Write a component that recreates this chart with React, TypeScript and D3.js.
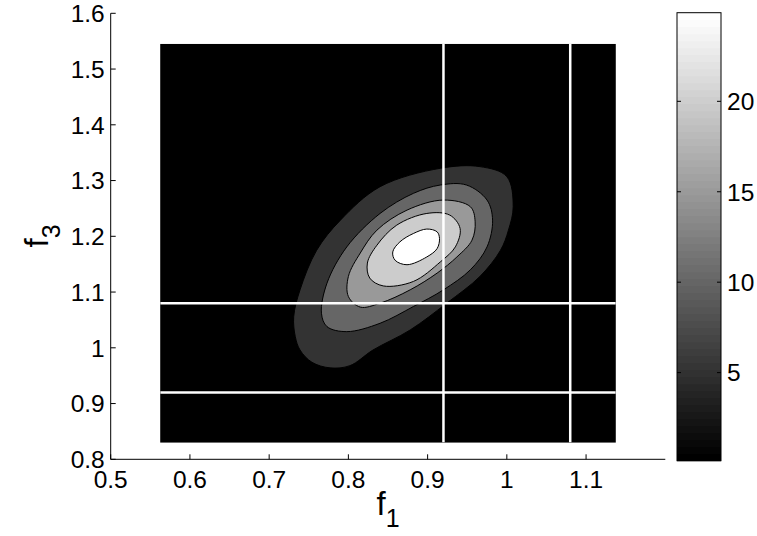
import React from "react";
import * as d3 from "d3";

// ---- data ----
const xTicks = [0.5, 0.6, 0.7, 0.8, 0.9, 1, 1.1];
const yTicks = [0.8, 0.9, 1, 1.1, 1.2, 1.3, 1.4, 1.5, 1.6];
const cbarTicks = [5, 10, 15, 20];
const cbarRange = [0.13, 24.9];
const levels = [4, 8, 12, 16, 20];
const gridXRange = [0.5625, 1.1375];
const gridYRange = [0.83, 1.545];
const refLinesX = [0.92, 1.08];
const refLinesY = [0.92, 1.08];

// contour rings (f1, f3) for each level, outermost first
const ring1: [number, number][] = [
  [0.916, 1.322], [0.966, 1.325], [1.0, 1.307], [1.008, 1.253], [1.002, 1.211],
  [0.992, 1.175], [0.966, 1.128], [0.924, 1.08], [0.878, 1.032], [0.831, 0.996],
  [0.802, 0.968], [0.777, 0.964], [0.754, 0.974], [0.739, 0.996], [0.733, 1.02],
  [0.731, 1.056], [0.739, 1.104], [0.76, 1.175], [0.79, 1.229], [0.84, 1.289],
];
const ring2: [number, number][] = [
  [0.916, 1.292], [0.949, 1.292], [0.975, 1.265], [0.982, 1.229], [0.975, 1.181],
  [0.954, 1.14], [0.92, 1.104], [0.882, 1.074], [0.84, 1.044], [0.798, 1.029],
  [0.773, 1.038], [0.766, 1.062], [0.773, 1.116], [0.798, 1.181], [0.84, 1.241],
  [0.882, 1.277],
];
const ring3: [number, number][] = [
  [0.92, 1.265], [0.954, 1.253], [0.96, 1.226], [0.956, 1.193], [0.937, 1.163],
  [0.912, 1.134], [0.878, 1.104], [0.84, 1.08], [0.815, 1.073], [0.8, 1.092],
  [0.8, 1.128], [0.815, 1.17], [0.836, 1.211], [0.874, 1.247],
];
const ring4: [number, number][] = [
  [0.899, 1.241], [0.928, 1.238], [0.941, 1.214], [0.935, 1.181], [0.916, 1.154],
  [0.882, 1.119], [0.844, 1.111], [0.827, 1.125], [0.824, 1.152], [0.836, 1.184],
  [0.861, 1.22],
];
const ring5: [number, number][] = [
  [0.899, 1.213], [0.912, 1.208], [0.915, 1.196], [0.912, 1.178], [0.899, 1.163],
  [0.874, 1.149], [0.859, 1.157], [0.856, 1.172], [0.865, 1.19], [0.882, 1.205],
];
const rings = [ring1, ring2, ring3, ring4, ring5];

const W = 757;
const H = 536;
const FONT = "'Liberation Sans', Arial, Helvetica, sans-serif";

export default function App() {
  const x = d3.scaleLinear().domain([0.5, 1.2]).range([110.7, 665.3]);
  const y = d3.scaleLinear().domain([0.8, 1.6]).range([459.3, 13.3]);
  const cb = d3.scaleLinear().domain(cbarRange).range([460.7, 12.7]);
  const cbL = 677, cbR = 721;
  const gray = d3.scaleLinear<string>().domain([0, levels.length]).range(["#000", "#fff"]);

  const line = d3
    .line<[number, number]>()
    .x((d) => x(d[0]))
    .y((d) => y(d[1]))
    .curve(d3.curveCatmullRomClosed.alpha(0.5));

  const nBands = 64;
  const bandStep = (cbarRange[1] - cbarRange[0]) / nBands;
  const bands = d3.range(nBands).map((i) => ({
    v0: cbarRange[0] + i * bandStep,
    v1: cbarRange[0] + (i + 1) * bandStep,
    c: d3.interpolateRgb("#000", "#fff")(i / (nBands - 1)),
  }));

  return (
    <svg
      width={W}
      height={H}
      style={{ position: "absolute", left: 0, top: 0, background: "#fff" }}
      fontFamily={FONT}
    >
      <defs>
        <clipPath id="dataClip">
          <rect
            x={x(gridXRange[0])}
            y={y(gridYRange[1])}
            width={x(gridXRange[1]) - x(gridXRange[0])}
            height={y(gridYRange[0]) - y(gridYRange[1])}
          />
        </clipPath>
      </defs>
      {/* base (below lowest level) */}
      <rect
        x={x(gridXRange[0])}
        y={y(gridYRange[1])}
        width={x(gridXRange[1]) - x(gridXRange[0])}
        height={y(gridYRange[0]) - y(gridYRange[1])}
        fill="#000"
      />
      <g clipPath="url(#dataClip)">
        {rings.map((r, i) => (
          <path key={i} d={line(r) || ""} fill={gray(i + 1)} stroke="#000" strokeWidth={1} />
        ))}
        {refLinesX.map((v) => (
          <line key={"vx" + v} x1={x(v)} x2={x(v)} y1={y(gridYRange[0])} y2={y(gridYRange[1])} stroke="#fff" strokeWidth={2.5} />
        ))}
        {refLinesY.map((v) => (
          <line key={"hy" + v} y1={y(v)} y2={y(v)} x1={x(gridXRange[0])} x2={x(gridXRange[1])} stroke="#fff" strokeWidth={2.5} />
        ))}
      </g>

      {/* axes */}
      <line x1={x(0.5)} x2={x(0.5)} y1={y(0.8)} y2={y(1.6)} stroke="#000" strokeWidth={1} />
      <line x1={x(0.5)} x2={x(1.2)} y1={y(0.8)} y2={y(0.8)} stroke="#000" strokeWidth={1} />
      {yTicks.map((t) => (
        <g key={"yt" + t}>
          <line x1={x(0.5)} x2={x(0.5) + 5} y1={y(t)} y2={y(t)} stroke="#000" />
          <text x={x(0.5) - 6} y={y(t)} dy="0.36em" textAnchor="end" fontSize={24.5}>
            {d3.format("")(t)}
          </text>
        </g>
      ))}
      {xTicks.map((t) => (
        <g key={"xt" + t}>
          <line x1={x(t)} x2={x(t)} y1={y(0.8)} y2={y(0.8) - 5} stroke="#000" />
          <text x={x(t)} y={y(0.8) + 29} textAnchor="middle" fontSize={24.5}>
            {d3.format("")(t)}
          </text>
        </g>
      ))}

      {/* axis labels */}
      <text x={388} y={515} textAnchor="middle" fontSize={33}>
        f<tspan fontSize={25} dy={12}>1</tspan>
      </text>
      <text transform="translate(48,236) rotate(-90)" textAnchor="middle" fontSize={33}>
        f<tspan fontSize={25} dy={12}>3</tspan>
      </text>

      {/* colorbar */}
      <g>
        {bands.map((b, i) => (
          <rect key={i} x={cbL} width={cbR - cbL} y={cb(b.v1)} height={cb(b.v0) - cb(b.v1) + 0.5} fill={b.c} />
        ))}
        <rect x={cbL} y={cb(cbarRange[1])} width={cbR - cbL} height={cb(cbarRange[0]) - cb(cbarRange[1])} fill="none" stroke="#000" strokeWidth={1} />
        {cbarTicks.map((t) => (
          <g key={"cb" + t}>
            <line x1={cbL} x2={cbL + 4} y1={cb(t)} y2={cb(t)} stroke="#000" />
            <line x1={cbR} x2={cbR - 4} y1={cb(t)} y2={cb(t)} stroke="#000" />
            <text x={cbR + 6} y={cb(t)} dy="0.36em" fontSize={24.5}>
              {t}
            </text>
          </g>
        ))}
      </g>
    </svg>
  );
}
